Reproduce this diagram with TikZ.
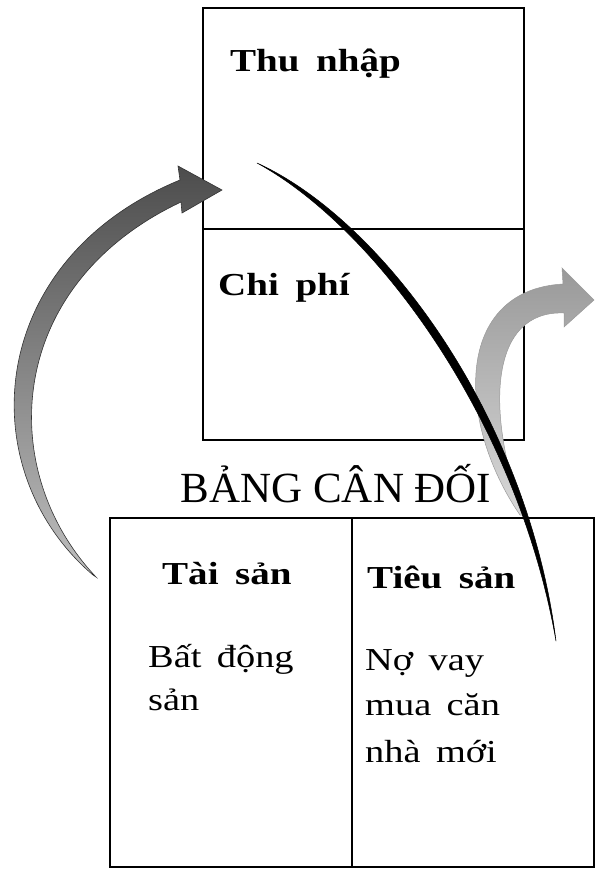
\documentclass[tikz,border=0pt]{standalone}
\usepackage{fontspec}
\setmainfont{Liberation Serif}
\newfontfamily\lab[FakeStretch=1.2,WordSpace=1.6]{Liberation Serif}
\newfontfamily\labbf[WordSpace=1.7]{Liberation Serif Bold}
\newcommand\widebf[1]{\scalebox{1.22}[1]{#1}}
\begin{document}
\begin{tikzpicture}[x=1pt,y=-1pt,
  box/.style={draw=black,line width=2.2pt},
  lbl/.style={anchor=base west,inner sep=0pt,font=\labbf\fontsize{32}{40}\selectfont},
  txt/.style={anchor=base west,inner sep=0pt,font=\lab\fontsize{32}{40}\selectfont},
  darkarrow/.style={top color=black!70,bottom color=black!25,draw=black!80,line width=0.6pt},
  lightarrow/.style={top color=black!40,bottom color=black!15,draw=black!40,line width=0.5pt},
  inkline/.style={fill=black,draw=black,line width=0.5pt,line join=round}
]
\useasboundingbox (0,0) rectangle (598,871);
% top box: income statement
\draw[box] (203,8) rectangle (524,440);
\draw[box] (203,229) -- (524,229);
% bottom box: balance sheet
\draw[box] (110,518) rectangle (594,867);
\draw[box] (352,518) -- (352,867);

% texts
\node[lbl] (thu) at (230,71) {\widebf{Thu nhập}};
\node[lbl] (chi) at (218,295) {\widebf{Chi phí}};
\node[anchor=base,inner sep=0pt,font=\fontsize{43}{50}\selectfont] (title) at (336,502) {BẢNG CÂN ĐỐI};
\node[lbl] (tai) at (162,584) {\widebf{Tài sản}};
\node[lbl] (tieu) at (367,588) {\widebf{Tiêu sản}};
\node[txt] (bat1) at (148,667) {Bất động};
\node[txt] (bat2) at (148,710) {sản};
\node[txt] (no1) at (365,670) {Nợ vay};
\node[txt] (no2) at (365,715) {mua căn};
\node[txt] (no3) at (365,762) {nhà mới};

% left dark curved arrow (into Thu nhap)
\path[darkarrow] (93,575) .. controls (-30,470) and (-15,260) .. (180,180)
  -- (178,166) -- (222,190) -- (182,213) -- (181,202)
  .. controls (5,285) and (-5,470) .. (96,577) -- cycle;

% right light curved arrow (out of Chi phi)
\path[lightarrow] (520,515) .. controls (455,420) and (455,290) .. (563,284)
  -- (562,268) -- (594,300) -- (564,327) -- (564,313)
  .. controls (490,310) and (485,410) .. (523,515) -- cycle;

% long black curve
\path[inkline] (257,163) .. controls (383,220) and (528,417) .. (556,641)
  .. controls (518,423) and (378,229) .. (257,163) -- cycle;
\end{tikzpicture}
\end{document}
